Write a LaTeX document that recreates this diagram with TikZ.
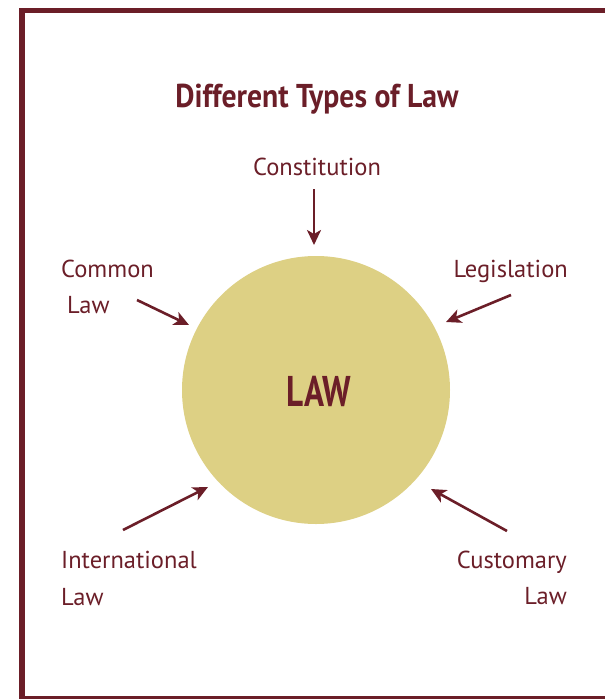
\documentclass[tikz,border=0pt]{standalone}
\usepackage{fontspec}
\setmainfont{PT Sans}
\newfontfamily\titlefont[FakeStretch=0.9]{PT Sans}
\newfontfamily\lawfont[FakeStretch=0.77]{PT Sans}
\usetikzlibrary{arrows.meta}
\definecolor{maroon}{HTML}{6B1E28}
\definecolor{sand}{HTML}{DDD084}
\tikzset{lbl/.style={text=maroon, inner sep=0pt, font=\fontsize{24.5}{29}\selectfont},
  arr/.style={maroon, line width=2.6pt, -{Stealth[length=15pt,width=14pt,inset=4pt]}}}

\begin{document}
\begin{tikzpicture}[x=1pt,y=-1pt]
  \useasboundingbox (0,0) rectangle (605,699);
  \clip (0,0) rectangle (605,699);
  \draw[maroon, line width=5.5pt] (22,10.5) rectangle (640,698.5);

  \node[lbl, anchor=base, font=\titlefont\bfseries\fontsize{33}{38}\selectfont] (title) at (317,107) {Different Types of Law};

  \node[circle, fill=sand, minimum size=268pt, inner sep=0pt] (law) at (316,390) {};
  \node[lbl, anchor=base, font=\lawfont\bfseries\fontsize{43}{48}\selectfont] (lawtext) at (319,406) {LAW};

  \node[lbl, anchor=base] (constitution) at (317,175) {Constitution};
  \node[lbl, anchor=base west] (common) at (61,277) {Common};
  \node[lbl, anchor=base west] (common2) at (67,313) {Law};
  \node[lbl, anchor=base east] (legislation) at (568,277) {Legislation};
  \node[lbl, anchor=base west] (international) at (61,568) {International};
  \node[lbl, anchor=base west] (international2) at (61,605) {Law};
  \node[lbl, anchor=base east] (customary) at (567,568) {Customary};
  \node[lbl, anchor=base east] (customary2) at (567,604) {Law};

  \coordinate (con-tail) at (314,189);
  \coordinate (con-tip) at (314,245);
  \coordinate (com-tail) at (137,300);
  \coordinate (com-tip) at (189,325);
  \coordinate (leg-tail) at (511,295);
  \coordinate (leg-tip) at (446,322);
  \coordinate (int-tail) at (123,530);
  \coordinate (int-tip) at (208,487);
  \coordinate (cus-tail) at (507,531);
  \coordinate (cus-tip) at (431,489);

  \draw[arr] (con-tail) -- (con-tip);
  \draw[arr] (com-tail) -- (com-tip);
  \draw[arr] (leg-tail) -- (leg-tip);
  \draw[arr] (int-tail) -- (int-tip);
  \draw[arr] (cus-tail) -- (cus-tip);
\end{tikzpicture}
\end{document}
